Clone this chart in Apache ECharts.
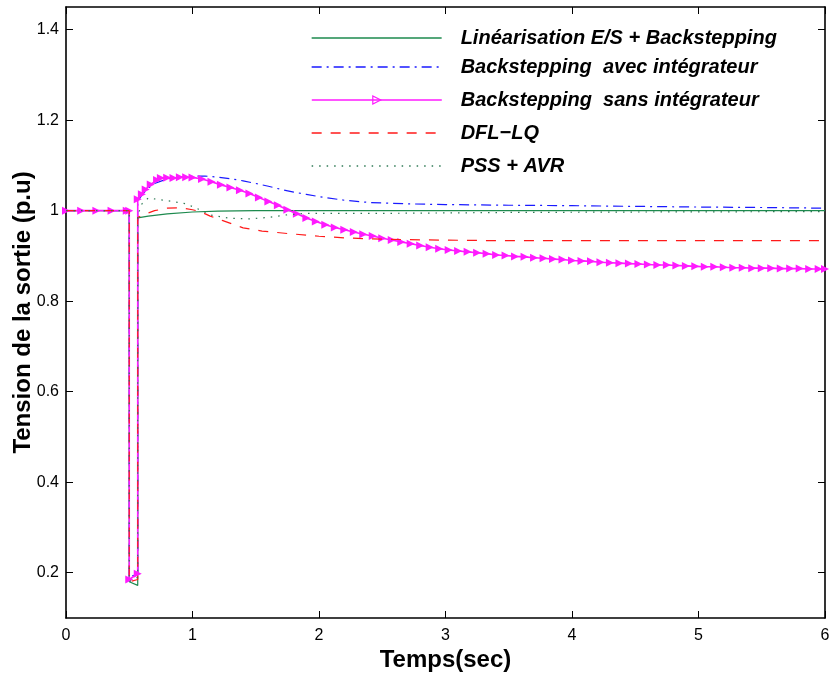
<!DOCTYPE html>
<html>
<head>
<meta charset="utf-8">
<script src="https://cdn.jsdelivr.net/npm/echarts@6/dist/echarts.min.js"></script>
<style>html,body{margin:0;padding:0;background:#fff}#c{width:830px;height:677px}</style>
</head>
<body>
<div id="c"></div>
<script>
// ---- data (time in s, voltage in p.u.) ----
const xTicks = [0, 1, 2, 3, 4, 5, 6];
const yTicks = [0.2, 0.4, 0.6, 0.8, 1.0, 1.2, 1.4];

const names = [
  'Linéarisation E/S + Backstepping',
  'Backstepping  avec intégrateur',
  'Backstepping  sans intégrateur',
  'DFL\u2212LQ',
  'PSS + AVR'
];

const tLin = [0, 0.5, 0.5, 0.567, 0.567, 0.65, 0.8, 1.0, 1.2, 1.5, 6.0];
const vLin = [1, 1, 0.18, 0.172, 0.984, 0.988, 0.993, 0.997, 0.999, 1.0, 1.0];

const tAvec = [0, 0.5, 0.5, 0.567, 0.567, 0.6, 0.65, 0.7, 0.8, 0.9, 1.0, 1.1, 1.2, 1.3, 1.4, 1.5, 1.6, 1.7, 1.8, 1.9, 2.0, 2.2, 2.4, 2.7, 3.0, 3.5, 4.0, 4.5, 5.0, 5.5, 6.0];
const vAvec = [1, 1, 0.19, 0.198, 1.02, 1.035, 1.05, 1.06, 1.07, 1.074, 1.076, 1.0765, 1.074, 1.0706, 1.066, 1.06, 1.054, 1.047, 1.041, 1.036, 1.031, 1.023, 1.018, 1.015, 1.0135, 1.012, 1.011, 1.0095, 1.008, 1.007, 1.0055];

const tSans = [0, 0.12, 0.24, 0.36, 0.48, 0.5, 0.5, 0.567, 0.567, 0.6, 0.63, 0.67, 0.72, 0.75, 0.8, 0.85, 0.9, 0.95,
  1.0, 1.075, 1.15, 1.225, 1.3, 1.375, 1.45, 1.525, 1.6, 1.675, 1.75, 1.825, 1.9, 1.975,
  2.05, 2.125, 2.2, 2.275, 2.35, 2.425, 2.5, 2.575, 2.65, 2.725, 2.8, 2.875, 2.95,
  3.025, 3.1, 3.175, 3.25, 3.325, 3.4, 3.475, 3.55, 3.625, 3.7, 3.775, 3.85, 3.925,
  4.0, 4.075, 4.15, 4.225, 4.3, 4.375, 4.45, 4.525, 4.6, 4.675, 4.75, 4.825, 4.9, 4.975,
  5.05, 5.125, 5.2, 5.275, 5.35, 5.425, 5.5, 5.575, 5.65, 5.725, 5.8, 5.875, 5.95, 6.0];
const vSans = [1, 1, 1, 1, 1, 1, 0.185, 0.198, 1.025, 1.036, 1.047, 1.058, 1.068, 1.072, 1.073, 1.072, 1.074, 1.074,
  1.0735, 1.070, 1.064, 1.057, 1.051, 1.045, 1.038, 1.029, 1.020, 1.012, 1.002, 0.993, 0.984, 0.976,
  0.969, 0.963, 0.958, 0.953, 0.948, 0.944, 0.939, 0.935, 0.931, 0.927, 0.923, 0.919, 0.916,
  0.913, 0.911, 0.909, 0.907, 0.905, 0.902, 0.901, 0.899, 0.898, 0.896, 0.895, 0.893, 0.892,
  0.890, 0.889, 0.888, 0.886, 0.885, 0.884, 0.883, 0.882, 0.881, 0.880, 0.880, 0.879, 0.878, 0.877,
  0.876, 0.876, 0.875, 0.874, 0.874, 0.873, 0.873, 0.873, 0.872, 0.872, 0.872, 0.871, 0.871, 0.871];

const tDfl = [0, 0.5, 0.5, 0.567, 0.567, 0.62, 0.7, 0.8, 0.9, 1.0, 1.06, 1.14, 1.24, 1.4, 1.55, 1.75, 2.0, 2.2, 2.4, 2.8, 3.3, 6.0];
const vDfl = [1, 1, 0.18, 0.185, 0.985, 0.992, 1.0, 1.0055, 1.0065, 1.002, 0.998, 0.988, 0.978, 0.962, 0.955, 0.9495, 0.9435, 0.940, 0.9377, 0.9355, 0.934, 0.934];

const tPss = [0, 0.5, 0.5, 0.567, 0.567, 0.6, 0.65, 0.75, 0.85, 0.95, 1.05, 1.15, 1.3, 1.45, 1.6, 1.75, 1.9, 2.5, 3.5, 4.5, 6.0];
const vPss = [1, 1, 0.18, 0.19, 0.99, 1.015, 1.028, 1.024, 1.02, 1.015, 1.003, 0.99, 0.983, 0.982, 0.985, 0.991, 0.994, 0.994, 0.996, 0.997, 0.998];

const pairs = (t, v) => t.map((x, i) => [x, v[i]]);

const chart = echarts.init(document.getElementById('c'), null, {renderer: 'canvas'});
const FONT = '"Liberation Sans", Arial, Helvetica, sans-serif';

const colors = ['#1d8a4e', '#1a1aff', '#ff1aff', '#ff1a1a', '#2f7a55'];
const lineTypes = ['solid', [10, 5, 2, 5], 'solid', [10, 9], [1.5, 6]];
const legendTops = [28, 57, 90, 123, 156];

const legends = names.map((n, i) => ({
  data: [n],
  left: 311,
  top: legendTops[i],
  orient: 'horizontal',
  padding: 0,
  itemWidth: 130,
  itemHeight: 10,
  selectedMode: false,
  itemStyle: i === 2 ? {color: 'transparent', borderColor: colors[2], borderWidth: 1.2} : {opacity: 0},
  lineStyle: {type: lineTypes[i], width: i === 2 ? 1.6 : 1.3},
  textStyle: {
    fontFamily: FONT, fontSize: 20, fontWeight: 'bold', fontStyle: 'italic',
    color: '#000', padding: [0, 0, 0, 14], lineHeight: 20
  }
}));

const mk = (i, t, v, extra) => Object.assign({
  name: names[i],
  type: 'line',
  data: pairs(t, v),
  symbol: 'none',
  color: colors[i],
  lineStyle: {color: colors[i], width: 1.2, type: lineTypes[i]},
  animation: false,
  z: 2 + i
}, extra || {});

chart.setOption({
  animation: false,
  backgroundColor: '#fff',
  grid: {left: 66, top: 7, right: 5, bottom: 59, containLabel: false, outerBoundsMode: 'none'},
  legend: legends,
  xAxis: [{
    type: 'value', min: 0, max: 6, interval: 1,
    name: 'Temps(sec)', nameLocation: 'middle', nameGap: 30, nameMoveOverlap: false,
    nameTextStyle: {fontFamily: FONT, fontSize: 24, fontWeight: 'bold', color: '#000'},
    axisLine: {onZero: false, lineStyle: {color: '#000', width: 1.6}},
    axisTick: {inside: true, length: 7, lineStyle: {color: '#000', width: 1}},
    axisLabel: {fontFamily: FONT, fontSize: 16, color: '#000', margin: 10,
      formatter: v => String(v)},
    splitLine: {show: false}
  }, {
    type: 'value', min: 0, max: 6, interval: 1, position: 'top',
    axisLine: {onZero: false, lineStyle: {color: '#000', width: 1.6}},
    axisTick: {inside: true, length: 7, lineStyle: {color: '#000', width: 1}},
    axisLabel: {show: false}, splitLine: {show: false}
  }],
  yAxis: [{
    type: 'value', min: 0.1, max: 1.45,
    name: 'Tension de la sortie (p.u)', nameLocation: 'middle', nameGap: 31, nameMoveOverlap: false,
    nameTextStyle: {fontFamily: FONT, fontSize: 24, fontWeight: 'bold', color: '#000'},
    axisLine: {onZero: false, lineStyle: {color: '#000', width: 1.6}},
    axisTick: {inside: true, length: 7, customValues: yTicks, lineStyle: {color: '#000', width: 1}},
    axisLabel: {fontFamily: FONT, fontSize: 16, color: '#000', margin: 7, customValues: yTicks,
      formatter: v => String(Number(v.toFixed(1)))},
    splitLine: {show: false}
  }, {
    type: 'value', min: 0.1, max: 1.45, position: 'right',
    axisLine: {onZero: false, lineStyle: {color: '#000', width: 1.6}},
    axisTick: {inside: true, length: 7, customValues: yTicks, lineStyle: {color: '#000', width: 1}},
    axisLabel: {show: false}, splitLine: {show: false}
  }],
  series: [
    mk(0, tLin, vLin),
    mk(1, tAvec, vAvec),
    mk(3, tDfl, vDfl),
    mk(4, tPss, vPss),
    mk(2, tSans, vSans, {
      symbol: 'triangle', symbolSize: 8, symbolRotate: -90, showSymbol: true,
      itemStyle: {color: colors[2]},
      lineStyle: {color: colors[2], width: 1.6, type: 'solid'}
    })
  ]
});
</script>
</body>
</html>
